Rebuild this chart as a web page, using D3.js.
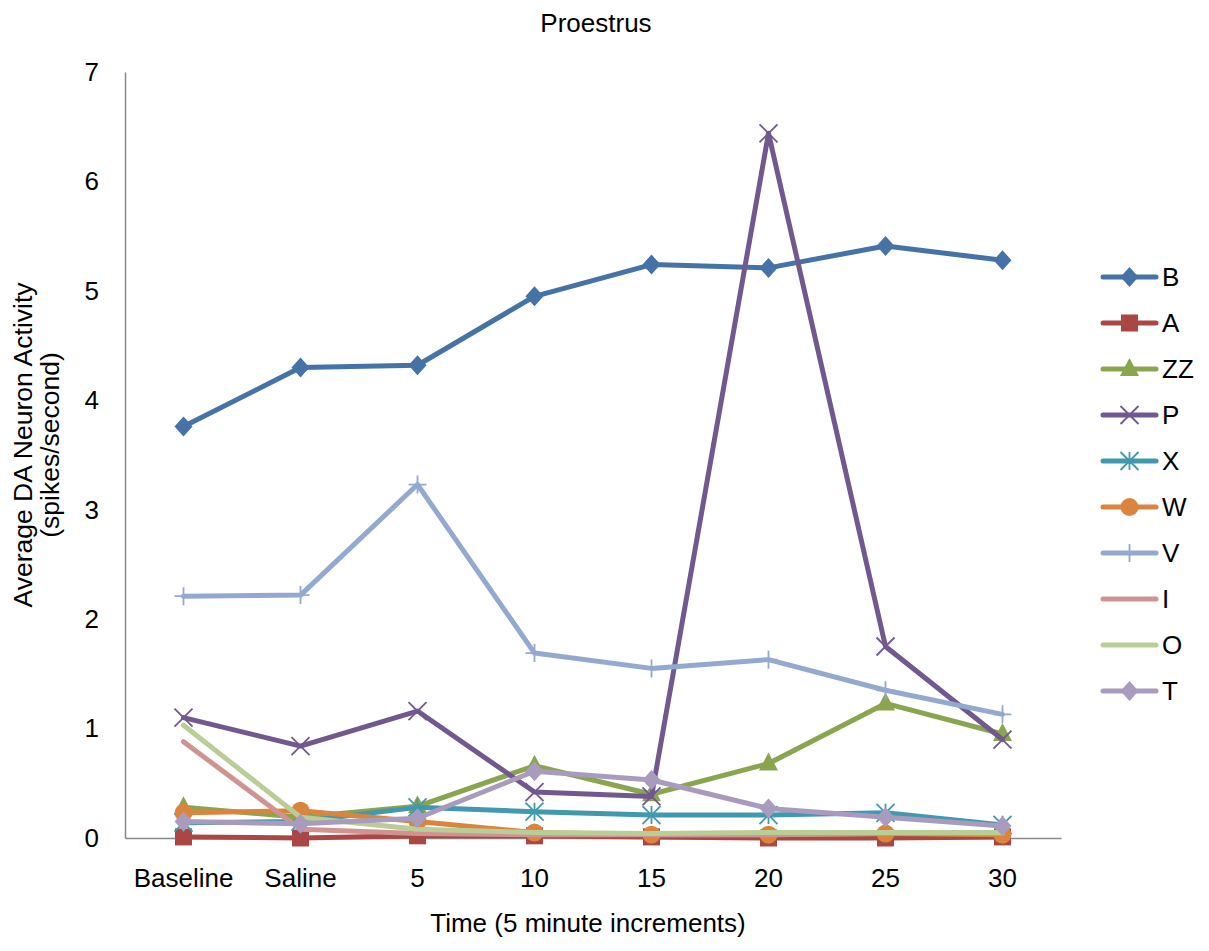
<!DOCTYPE html>
<html>
<head>
<meta charset="utf-8">
<script src="https://cdn.jsdelivr.net/npm/d3@7"></script>
<style>
  body { margin: 0; background: #fff; }
  svg text { font-family: "Liberation Sans", Arial, sans-serif; fill: #000; }
</style>
</head>
<body>
<svg id="chart" width="1209" height="951"></svg>
<script>
// categories and series values
var categories = ['Baseline', 'Saline', '5', '10', '15', '20', '25', '30'];
var seriesNames = ['B', 'A', 'ZZ', 'P', 'X', 'W', 'V', 'I', 'O', 'T'];
var B  = [3.76, 4.30, 4.32, 4.95, 5.24, 5.21, 5.41, 5.28];
var A  = [0.01, 0.00, 0.02, 0.02, 0.01, 0.00, 0.00, 0.01];
var ZZ = [0.28, 0.19, 0.29, 0.66, 0.40, 0.68, 1.23, 0.95];
var P  = [1.10, 0.84, 1.16, 0.42, 0.38, 6.44, 1.75, 0.90];
var X  = [0.14, 0.15, 0.28, 0.24, 0.21, 0.21, 0.23, 0.12];
var W  = [0.23, 0.25, 0.15, 0.05, 0.03, 0.03, 0.04, 0.03];
var V  = [2.21, 2.22, 3.23, 1.69, 1.55, 1.63, 1.35, 1.13];
var I  = [0.88, 0.08, 0.04, 0.03, 0.03, 0.03, 0.04, 0.04];
var O  = [1.03, 0.19, 0.08, 0.05, 0.04, 0.05, 0.05, 0.05];
var T  = [0.15, 0.13, 0.18, 0.61, 0.53, 0.27, 0.19, 0.11];
var yTicks = [0, 1, 2, 3, 4, 5, 6, 7];

var colors = {
  B: '#4572A7', A: '#AA4643', ZZ: '#89A54E', P: '#71588F', X: '#4198AF',
  W: '#DB843D', V: '#93A9CF', I: '#D19392', O: '#B9CD96', T: '#A99BBD'
};
var markers = {
  B: 'diamond', A: 'square', ZZ: 'triangle', P: 'x', X: 'star',
  W: 'circle', V: 'plus', I: null, O: null, T: 'diamond'
};
var values = { B: B, A: A, ZZ: ZZ, P: P, X: X, W: W, V: V, I: I, O: O, T: T };

var svg = d3.select('#chart');
var plotLeft = 125, plotRight = 1061, plotTop = 72, plotBottom = 838;

var x = d3.scaleBand().domain(categories).range([plotLeft, plotRight]);
var y = d3.scaleLinear().domain([0, 7]).range([plotBottom, plotTop]);
function cx(c) { return x(c) + x.bandwidth() / 2; }

// title
svg.append('text').attr('x', 596).attr('y', 32).attr('text-anchor', 'middle')
  .style('font-size', '26px').text('Proestrus');

// axes
var yAxis = svg.append('g').attr('transform', 'translate(' + plotLeft + ',0)')
  .call(d3.axisLeft(y).tickValues(yTicks).tickFormat(d3.format('d')).tickSize(0).tickPadding(26));
yAxis.select('.domain').attr('stroke', '#888').attr('stroke-width', 1.5);
yAxis.selectAll('text').style('font-size', '26px');

var xAxis = svg.append('g').attr('transform', 'translate(0,' + plotBottom + ')')
  .call(d3.axisBottom(x).tickSize(0).tickPadding(31));
xAxis.select('.domain').attr('stroke', '#888').attr('stroke-width', 1.5);
xAxis.selectAll('text').style('font-size', '26px');

// axis titles
svg.append('text').attr('x', 588).attr('y', 932).attr('text-anchor', 'middle')
  .style('font-size', '26px').text('Time (5 minute increments)');
var yt = svg.append('text').attr('transform', 'translate(32,445) rotate(-90)')
  .attr('text-anchor', 'middle').style('font-size', '26.5px');
yt.append('tspan').attr('x', 0).attr('dy', 0).text('Average DA Neuron Activity');
yt.append('tspan').attr('x', 0).attr('dy', 27).text('(spikes/second)');

// marker drawing
function drawMarker(g, type, px, py, color) {
  if (type === 'diamond') {
    g.append('path').attr('d', 'M0,-10L9,0L0,10L-9,0Z').attr('transform', 'translate(' + px + ',' + py + ')')
      .attr('fill', color);
  } else if (type === 'square') {
    g.append('rect').attr('x', px - 8.5).attr('y', py - 8.5).attr('width', 17).attr('height', 17).attr('fill', color);
  } else if (type === 'triangle') {
    g.append('path').attr('d', 'M0,-11L9.5,7L-9.5,7Z').attr('transform', 'translate(' + px + ',' + py + ')')
      .attr('fill', color);
  } else if (type === 'circle') {
    g.append('circle').attr('cx', px).attr('cy', py).attr('r', 9).attr('fill', color);
  } else if (type === 'x' || type === 'star' || type === 'plus') {
    var d = '';
    if (type === 'x' || type === 'star') d += 'M-9,-9L9,9M-9,9L9,-9';
    if (type === 'star') d += 'M0,-9L0,9';
    if (type === 'plus') d += 'M-9,0L9,0M0,-9L0,9';
    g.append('path').attr('d', d).attr('transform', 'translate(' + px + ',' + py + ')')
      .attr('fill', 'none').attr('stroke', color).attr('stroke-width', 1.8);
  }
}

var line = d3.line().x(function(d, i) { return cx(categories[i]); }).y(function(d) { return y(d); });

seriesNames.forEach(function(name) {
  var g = svg.append('g');
  g.append('path').datum(values[name]).attr('d', line)
    .attr('fill', 'none').attr('stroke', colors[name]).attr('stroke-width', 5)
    .attr('stroke-linejoin', 'round').attr('stroke-linecap', 'round');
  if (markers[name]) {
    values[name].forEach(function(v, i) {
      drawMarker(g, markers[name], cx(categories[i]), y(v), colors[name]);
    });
  }
});

// legend
var legend = svg.append('g');
seriesNames.forEach(function(name, i) {
  var ly = 277 + i * 46;
  var lg = legend.append('g');
  lg.append('line').attr('x1', 1103).attr('x2', 1156).attr('y1', ly).attr('y2', ly)
    .attr('stroke', colors[name]).attr('stroke-width', 5).attr('stroke-linecap', 'round');
  if (markers[name]) drawMarker(lg, markers[name], 1129.5, ly, colors[name]);
  lg.append('text').attr('x', 1162).attr('y', ly).attr('dy', '0.36em')
    .style('font-size', '26px').text(name);
});
</script>
</body>
</html>
